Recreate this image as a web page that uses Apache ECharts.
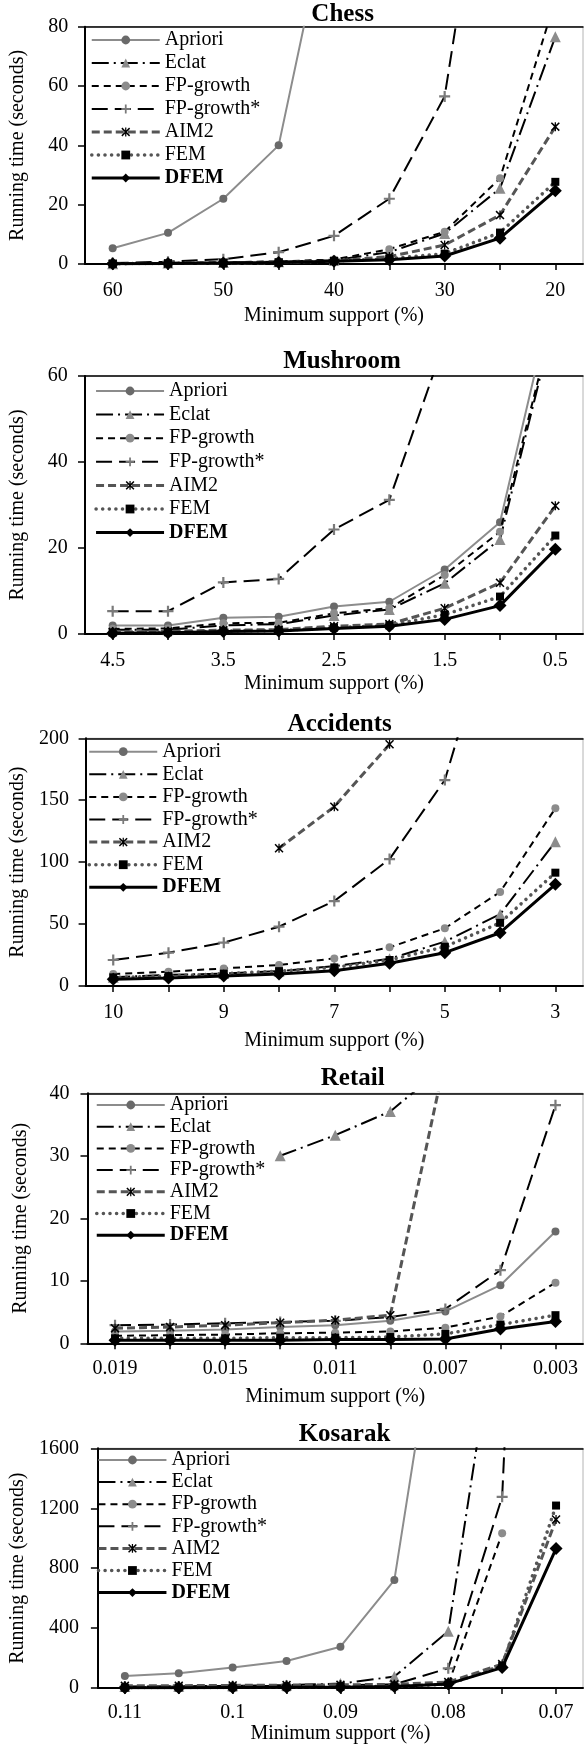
<!DOCTYPE html>
<html><head><meta charset="utf-8">
<script src="https://cdn.jsdelivr.net/npm/echarts@6/dist/echarts.min.js"></script>
<style>html,body{margin:0;padding:0;background:#fff}#c{width:584px;height:1745px}</style>
</head><body><div id="c"></div>
<script>
// ---------- data ----------
const seriesNames = ['Apriori','Eclat','FP-growth','FP-growth*','AIM2','FEM','DFEM'];

const chessCats = ['60','55','50','45','40','35','30','25','20'];
const chessApriori = [5.3, 10.5, 22, 40, 128, null, null, null, null];
const chessEclat = [0.1, 0.3, 0.5, 0.8, 1.3, 4, 10.3, 25.5, 76.6];
const chessFPgrowth = [0.2, 0.4, 0.6, 0.9, 1.5, 5, 10.9, 28.9, 89];
const chessFPgrowthStar = [0.3, 0.8, 1.6, 4, 9.5, 22, 56.5, 175, null];
const chessAIM2 = [0.1, 0.2, 0.3, 0.5, 1.0, 2.5, 6.4, 16.5, 46.3];
const chessFEM = [0.1, 0.2, 0.3, 0.5, 1.0, 1.8, 3.5, 10.6, 27.7];
const chessDFEM = [0.1, 0.2, 0.3, 0.5, 0.9, 1.4, 2.7, 8.7, 24.7];

const mushCats = ['4.5','4','3.5','3','2.5','2','1.5','1','0.5'];
const mushApriori = [2.0, 2.0, 3.8, 4.0, 6.4, 7.5, 15, 26, 81];
const mushEclat = [1.0, 1.0, 2.0, 2.3, 4.3, 5.7, 11.8, 22, 74];
const mushFPgrowth = [1.2, 1.3, 2.5, 2.6, 4.8, 6.0, 13.7, 23.8, 75];
const mushFPgrowthStar = [5.3, 5.3, 12, 12.8, 24.3, 31.2, 68, null, null];
const mushAIM2 = [0.5, 0.6, 0.9, 1.0, 1.8, 2.3, 6.0, 11.9, 29.8];
const mushFEM = [0.3, 0.4, 0.7, 0.8, 1.5, 2.0, 4.5, 8.7, 22.9];
const mushDFEM = [0.2, 0.3, 0.6, 0.7, 1.3, 1.8, 3.4, 6.6, 19.7];

const accCats = ['10','9.5','9','8','7','6','5','4','3'];
const accApriori = [null, null, null, null, null, null, null, null, null];
const accEclat = [7, 9, 10, 12, 16, 22, 35.8, 58, 116.5];
const accFPgrowth = [9.7, 11.5, 14.2, 17, 22.3, 31.2, 46.6, 75.9, 143.5];
const accFPgrowthStar = [21, 26.9, 35, 47.9, 68.6, 102.5, 166.3, 316, null];
const accAIM2 = [null, null, null, 111.2, 144.8, 195.2, null, null, null];
const accFEM = [7, 8, 10, 12, 15, 21, 31.7, 51, 91.5];
const accDFEM = [5.4, 6.5, 8.1, 9.7, 12.4, 18.3, 26.9, 43, 82.1];

const retCats = ['0.019','0.017','0.015','0.013','0.011','0.009','0.007','0.005','0.003'];
const retApriori = [1.9, 2.0, 2.2, 2.6, 2.9, 3.6, 5.1, 9.3, 17.9];
const retEclat = [null, null, null, 30, 33.3, 37.1, 44.4, null, null];
const retFPgrowth = [1.2, 1.3, 1.4, 1.6, 1.7, 1.9, 2.5, 4.3, 9.7];
const retFPgrowthStar = [2.9, 3.0, 3.2, 3.4, 3.6, 4.2, 5.5, 11.7, 38.1];
const retAIM2 = [2.4, 2.6, 2.9, 3.3, 3.7, 4.5, 45.6, null, null];
const retFEM = [0.8, 0.8, 0.8, 0.9, 0.9, 1.0, 1.5, 3.0, 4.5];
const retDFEM = [0.5, 0.5, 0.5, 0.5, 0.6, 0.6, 0.7, 2.3, 3.5];

const kosCats = ['0.11','0.105','0.1','0.095','0.09','0.085','0.08','0.075','0.07'];
const kosApriori = [81, 99, 137, 181, 276, 721, 3000, null, null];
const kosEclat = [10, 12, 15, 20, 30, 77, 379, 2714, null];
const kosFPgrowth = [5, 6, 8, 10, 12, 18, 25, 1033, null];
const kosFPgrowthStar = [8, 10, 12, 15, 18, 25, 132, 1276, 9000];
const kosAIM2 = [15, 16, 18, 20, 22, 25, 40, 160, 1125];
const kosFEM = [3, 4, 5, 6, 8, 12, 25, 150, 1218];
const kosDFEM = [2, 3, 4, 5, 6, 10, 28, 137, 931];

const yTicksMax = [80, 60, 200, 40, 1600];
const yTicksStep = [20, 20, 50, 10, 400];
const titles = ['Chess', 'Mushroom', 'Accidents', 'Retail', 'Kosarak'];
const xName = 'Minimum support (%)';
const yName = 'Running time (seconds)';

// ---------- styles / layout ----------
const FONT = "'Liberation Serif','Times New Roman',serif";
const PLUS = 'path://M4,0H6V4H10V6H6V10H4V6H0V4H4Z';
const STAR = 'path://M0,1.2L1.2,0L5,3.8L8.8,0L10,1.2L6.2,5L10,8.8L8.8,10L5,6.2L1.2,10L0,8.8L3.8,5ZM4.3,0H5.7V10H4.3Z';
const sty = {
  'Apriori':    {line:'#8c8c8c', w:2,   type:'solid',        symbol:'circle',   size:8,  fill:'#6a6a6a'},
  'Eclat':      {line:'#000',    w:2,   type:[17,5,2,5],     symbol:'triangle', size:11, fill:'#8c8c8c'},
  'FP-growth':  {line:'#000',    w:2,   type:[7,5],          symbol:'circle',   size:8,  fill:'#8c8c8c'},
  'FP-growth*': {line:'#000',    w:2,   type:[16,7],         symbol:PLUS,       size:11, fill:'#7a7a7a'},
  'AIM2':       {line:'#555',    w:3,   type:[8,4],          symbol:STAR,       size:9,  fill:'#000'},
  'FEM':        {line:'#555',    w:3.5, type:[0.1,6.5], cap:'round', symbol:'rect', size:8, fill:'#000'},
  'DFEM':       {line:'#000',    w:3,   type:'solid',        symbol:'diamond',  size:13, fill:'#000'}
};

const panels = [
  {cats:chessCats, data:[chessApriori,chessEclat,chessFPgrowth,chessFPgrowthStar,chessAIM2,chessFEM,chessDFEM],
   grid:{left:85, top:26.7, height:237.3}, title:[342.6,15], legend:{left:90, top:30, gap:3}, ylm:16.7, xlm:17, xng:42},
  {cats:mushCats, data:[mushApriori,mushEclat,mushFPgrowth,mushFPgrowthStar,mushAIM2,mushFEM,mushDFEM],
   grid:{left:85, top:376, height:258}, title:[342,362], legend:{left:94.3, top:381, gap:3.6}, ylm:17.3, xlm:17, xng:40},
  {cats:accCats, data:[accApriori,accEclat,accFPgrowth,accFPgrowthStar,accAIM2,accFEM,accDFEM],
   grid:{left:85, top:738.3, height:247.7}, title:[339.7,725], legend:{left:87.5, top:741.7, gap:2.6}, ylm:16.7, xlm:17, xng:45},
  {cats:retCats, data:[retApriori,retEclat,retFPgrowth,retFPgrowthStar,retAIM2,retFEM,retDFEM],
   grid:{left:87.5, top:1093.3, height:250}, title:[352.7,1078.7], legend:{left:95, top:1095, gap:1.7}, ylm:18, xlm:15, xng:43},
  {cats:kosCats, data:[kosApriori,kosEclat,kosFPgrowth,kosFPgrowthStar,kosAIM2,kosFEM,kosDFEM],
   grid:{left:87.3, top:1448.3, height:241.7}, title:[344.5,1435], legend:{left:96.7, top:1450, gap:2.1}, ylm:19, xlm:15, xng:33}
];

const txt = {fontFamily:FONT, fontSize:20, color:'#000'};
const grid = [], xAxis = [], yAxis = [], series = [], legend = [], title = [];
panels.forEach((p, i) => {
  grid.push({left:p.grid.left, top:p.grid.top, right:1, height:p.grid.height, show:true,
             borderColor:'#b4b4b4', borderWidth:1, backgroundColor:'transparent'});
  xAxis.push({type:'category', gridIndex:i, data:p.cats, boundaryGap:true, position:'bottom',
    axisLine:{lineStyle:{color:'#000', width:2}},
    axisTick:{show:true, alignWithLabel:true, interval:0, length:6, lineStyle:{color:'#000', width:1.5}},
    axisLabel:Object.assign({interval:1, margin:p.xlm, lineHeight:20}, txt),
    splitLine:{show:false},
    name:xName, nameLocation:'middle', nameGap:p.xng, nameTextStyle:Object.assign({lineHeight:20, fontWeight:'normal'}, txt)});
  xAxis.push({type:'category', gridIndex:i, data:p.cats, position:'top',
    axisLine:{lineStyle:{color:'#000', width:1.5}}, axisTick:{show:false}, axisLabel:{show:false}, splitLine:{show:false}});
  yAxis.push({type:'value', gridIndex:i, min:0, max:yTicksMax[i], interval:yTicksStep[i],
    axisLine:{show:true, lineStyle:{color:'#000', width:2}},
    axisTick:{show:true, length:7, lineStyle:{color:'#000', width:1.5}},
    axisLabel:Object.assign({margin:p.ylm, formatter:v => String(v)}, txt),
    splitLine:{show:false},
    name:yName, nameLocation:'middle', nameGap:57, nameTextStyle:Object.assign({lineHeight:20, fontWeight:'normal'}, txt)});
  seriesNames.forEach((n, k) => {
    const s = sty[n];
    series.push({type:'line', name:n, xAxisIndex:2*i, yAxisIndex:i, data:p.data[k],
      symbol:s.symbol, symbolSize:s.size, showAllSymbol:true, clip:true,
      lineStyle:{color:s.line, width:s.w, type:s.type, cap:s.cap || 'butt'},
      itemStyle:{color:s.fill, borderWidth:0},
      emphasis:{disabled:true}, z:2 + k});
  });
  legend.push({orient:'vertical', left:p.legend.left, top:p.legend.top, itemGap:p.legend.gap,
    itemWidth:68, itemHeight:11, padding:0, selectedMode:false,
    textStyle:Object.assign({lineHeight:20}, txt),
    data:seriesNames.map(n => {
      const s = sty[n];
      const item = {name:n,
        lineStyle:{color:s.line, width:s.w, type:s.type, cap:s.cap || 'butt'},
        itemStyle:{color:s.fill, borderWidth:0}};
      if (n === 'DFEM') item.textStyle = {fontWeight:'bold'};
      return item;
    })});
  title.push({text:titles[i], left:p.title[0], top:p.title[1], textAlign:'center', textVerticalAlign:'middle',
    padding:0, textStyle:{fontFamily:FONT, fontSize:25, fontWeight:'bold', color:'#000'}});
});

const chart = echarts.init(document.getElementById('c'), null, {renderer:'canvas'});
chart.setOption({animation:false, backgroundColor:'#fff', title, legend, grid, xAxis, yAxis, series});
</script>
</body></html>
